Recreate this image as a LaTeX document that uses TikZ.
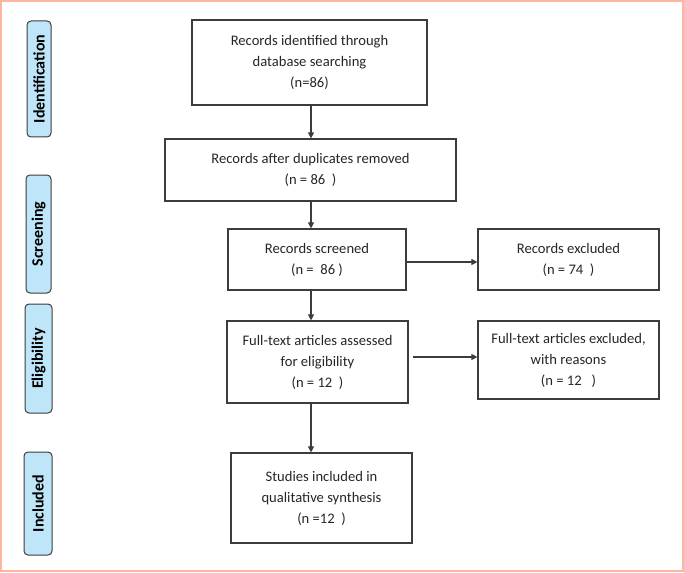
\documentclass[tikz,border=0pt]{standalone}
\usepackage{fontspec}
\setmainfont{Carlito}
\usetikzlibrary{arrows.meta}
\definecolor{frameorange}{RGB}{250,182,160}
\definecolor{phaseblue}{RGB}{191,229,248}
\definecolor{linegray}{RGB}{60,60,60}
\tikzset{
  recbox/.style={draw=linegray, line width=1.2pt, align=center, text=black!85,
    font=\fontsize{14.6}{21}\selectfont, inner sep=0pt},
  phase/.style={draw=linegray, line width=1pt, fill=phaseblue, rounded corners=4pt,
    rotate=90, font=\bfseries\fontsize{16}{18}\selectfont, inner sep=0pt},
  arr/.style={draw=linegray, line width=1.1pt, -{Triangle[width=6pt,length=6pt]}}
}
\begin{document}
\begin{tikzpicture}[x=1pt,y=-1pt]
\useasboundingbox (0,0) rectangle (684,572);
\draw[frameorange, line width=2pt] (1,1) rectangle (683,571);
% phases on the left
\node[phase, minimum width=116pt, minimum height=24pt] (idp) at (39,79) {Identification};
\node[phase, minimum width=118pt, minimum height=25pt] (scp) at (38.5,234) {Screening};
\node[phase, minimum width=109pt, minimum height=27pt] (elp) at (38.5,358.5) {Eligibility};
\node[phase, minimum width=103pt, minimum height=28pt] (inp) at (38,503.5) {Included};
% flow boxes
\node[recbox, minimum width=235pt, minimum height=85pt] (ident) at (309.5,62.5)
  {Records identified through\\database searching\\(n=86)};
\node[recbox, minimum width=291pt, minimum height=62pt] (dup) at (310.5,170)
  {Records after duplicates removed\\(n = 86~~)};
\node[recbox, minimum width=178pt, minimum height=61pt] (scr) at (317,259.5)
  {Records screened\\(n = ~86 )};
\node[recbox, minimum width=181pt, minimum height=61pt] (excl) at (568.5,259.5)
  {Records excluded\\(n = 74~~)};
\node[recbox, minimum width=181pt, minimum height=82pt] (full) at (317.5,362)
  {Full-text articles assessed\\for eligibility\\(n = 12~~)};
\node[recbox, minimum width=181pt, minimum height=78pt] (exfull) at (568.5,360)
  {Full-text articles excluded,\\with reasons\\(n = 12~~~)};
\node[recbox, minimum width=181pt, minimum height=90pt] (incl) at (321.5,498)
  {Studies included in\\qualitative synthesis\\(n =12~~)};
% connectors
\coordinate (spine) at (311,0);
\draw[arr] (ident.south -| spine) -- (dup.north -| spine);
\draw[arr] (dup.south -| spine) -- (scr.north -| spine);
\draw[arr] (scr.south -| spine) -- (full.north -| spine);
\draw[arr] (full.south -| spine) -- (incl.north -| spine);
\draw[arr] ([yshift=-2.5pt]scr.east) -- ([yshift=-2.5pt]excl.west);
\draw[arr] ([xshift=4pt,yshift=3pt]full.east |- exfull.west) -- ([yshift=3pt]exfull.west);
\end{tikzpicture}
\end{document}
